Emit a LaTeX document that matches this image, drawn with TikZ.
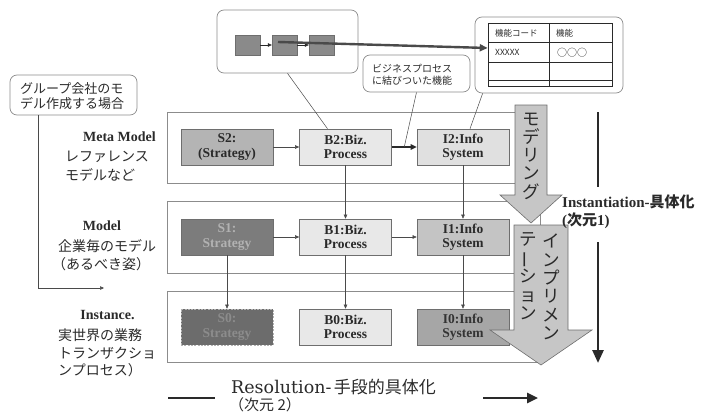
\documentclass[tikz,border=0pt]{standalone}
\usepackage{fontspec}
\setmainfont{Liberation Serif}
\newfontfamily\jp{Noto Sans CJK JP}
\newfontfamily\dvs{DejaVu Serif}
\usetikzlibrary{arrows.meta,calc}
\definecolor{ink}{HTML}{2A2A2A}
\definecolor{boxline}{HTML}{6E6E6E}
\definecolor{bandline}{HTML}{8C8C8C}
\definecolor{lightfill}{HTML}{E8E8E8}
\definecolor{sTwo}{HTML}{B4B4B4}
\definecolor{sOne}{HTML}{7C7C7C}
\definecolor{sZero}{HTML}{6C6C6C}
\definecolor{iTwo}{HTML}{E0E0E0}
\definecolor{iOne}{HTML}{C4C4C4}
\definecolor{iZero}{HTML}{A6A6A6}
\definecolor{bigarrow}{HTML}{C6C6C6}
\definecolor{sqfill}{HTML}{8A8A8A}
\definecolor{conn}{HTML}{4A4A4A}
\begin{document}
\begin{tikzpicture}[x=1pt,y=-1pt,
  every node/.style={text=ink},
  box/.style={draw=boxline, line width=0.6pt, minimum width=92pt, minimum height=36pt,
    inner sep=0pt, align=center, font=\bfseries\fontsize{13.5}{14.5}\selectfont},
  band/.style={draw=bandline, line width=0.7pt},
  callout/.style={draw=bandline, line width=0.7pt, rounded corners=7pt, inner sep=0pt},
  conn/.style={draw=conn, line width=0.5pt, -{Triangle[length=4pt,width=3.5pt]}},
  plain/.style={draw=conn, line width=0.5pt},
  sq/.style={fill=sqfill, draw=sqfill!80!black, line width=0.3pt, minimum width=25pt, minimum height=20pt, inner sep=0pt},
  lab/.style={font=\bfseries\fontsize{14}{16}\selectfont},
  jlab/.style={font=\jp\fontsize{14}{16}\selectfont, anchor=west, inner sep=0pt},
  big/.style={fill=bigarrow, draw=boxline, line width=0.6pt},
  vtext/.style={align=center, inner sep=0pt, font=\jp\fontsize{17.5}{18.3}\selectfont},
  heavy/.style={draw=ink, line width=2.6pt}
]
\useasboundingbox (0,0) rectangle (728,412);

% ---- bands
\draw[band] (167,112) rectangle (540,183);
\draw[band] (167,201) rectangle (540,273);
\draw[band] (167,291) rectangle (540,362);

% ---- top process box
\node[callout, minimum width=141pt, minimum height=63pt] (topbox) at (287.5,41.5) {};
\node[sq] (sq1) at (247.5,45) {};
\node[sq] (sq2) at (284.5,45) {};
\node[sq] (sq3) at (321.5,45) {};
\draw[conn, draw=ink] (sq1.east) -- (sq2.west);
\draw[conn, draw=ink] (sq2.east) -- (sq3.west);

% ---- table box
\node[callout, minimum width=148pt, minimum height=76pt] (tblbox) at (549,55) {};
\node[draw=ink, line width=0.6pt, minimum width=124pt, minimum height=63pt, inner sep=0pt] (tbl) at (550,54.5) {};
\draw[draw=ink, line width=0.6pt] (549,23) -- (549,86);
\draw[draw=ink, line width=0.6pt] (488,42) -- (612,42);
\draw[draw=ink, line width=0.6pt] (488,62) -- (612,62);
\draw[draw=ink, line width=0.6pt] (488,80) -- (612,80);
\node[font=\jp\fontsize{8.5}{10}\selectfont, anchor=west, inner sep=0pt] (thA) at (495,33) {機能コード};
\node[font=\jp\fontsize{8.5}{10}\selectfont, anchor=west, inner sep=0pt] (thB) at (556,33) {機能};
\node[font=\jp\fontsize{8.5}{10}\selectfont, anchor=west, inner sep=0pt] (tdA) at (495,52.5) {XXXXX};
\node[font=\jp\fontsize{10}{10}\selectfont, anchor=west, inner sep=0pt] (tdB) at (557,52.5) {○○○};

% heavy line from process to table
\coordinate (flowstart) at (278,42);
\draw[draw=conn, line width=2.4pt, -{Triangle[length=8pt,width=7pt]}] (flowstart) -- ([yshift=6.5pt]tbl.west);

% ---- callouts
\node[callout, minimum width=127pt, minimum height=40pt] (grpcall) at (73.5,95) {};
\node[font=\jp\fontsize{13}{15.5}\selectfont, align=left, anchor=west, inner sep=0pt] (grptext) at (20,96) {グループ会社のモ\\デル作成する場合};
\node[callout, minimum width=107pt, minimum height=37pt] (bizcall) at (416.5,73.5) {};
\node[font=\jp\fontsize{10}{11.5}\selectfont, align=left, anchor=west, inner sep=0pt] (biztext) at (372,75) {ビジネスプロセス\\に結びついた機能};

% ---- boxes
\node[box, fill=sTwo] (S2) at (227,147) {S2:\\(Strategy)};
\node[box, fill=lightfill] (B2) at (345.5,147) {B2:Biz.\\Process};
\node[box, fill=iTwo] (I2) at (463,147) {I2:Info\\System};
\node[box, fill=sOne, text=black!30] (S1) at (227,237) {S1:\\Strategy};
\node[box, fill=lightfill] (B1) at (345.5,237) {B1:Biz.\\Process};
\node[box, fill=iOne] (I1) at (463,237) {I1:Info\\System};
\node[box, fill=sZero, text=black!45, draw=black!30, dash pattern=on 2pt off 1.3pt] (S0) at (227,327) {S0:\\Strategy};
\node[box, fill=lightfill] (B0) at (345.5,327) {B0:Biz.\\Process};
\node[box, fill=iZero, text=black!80] (I0) at (463,327) {I0:Info\\System};

% ---- connectors
\draw[conn] (S2) -- (B2);
\draw[draw=ink, line width=1.8pt, -{Triangle[length=6pt,width=5.5pt]}] (B2) -- (I2);
\draw[conn] (S1) -- (B1);
\draw[conn] (B1) -- (I1);
\draw[conn] (B2) -- (B1);
\draw[conn] (I2) -- (I1);
\draw[conn] (S1) -- (S0);
\draw[conn] (B1) -- (B0);
\draw[conn] (I1) -- (I0);

\draw[plain] (topbox.south) -- ([xshift=-18pt]B2.north);
\draw[plain] (bizcall.south) -- ($(B2.east)!0.5!(I2.west)$);
\draw[plain] ([xshift=8pt]tblbox.south west) -- ([xshift=7pt]I2.north);
\coordinate (grpend) at (104,288);
\draw[conn] ([xshift=-35.5pt]grpcall.south) |- (grpend);

% ---- big arrows
\draw[big] (515,105) -- (547,105) -- (547,195) -- (562,195) -- (531,223) -- (500,195) -- (515,195) -- cycle;
\node[vtext] (modeling) at (531,156) {モ\\デ\\リ\\ン\\グ};
\draw[big] (514,225) -- (568,225) -- (568,330) -- (592,330) -- (541,365) -- (490,330) -- (514,330) -- cycle;
\node[vtext] (implA) at (551,287) {イ\\ン\\プ\\リ\\メ\\ン};
\node[vtext] (implB) at (528,276) {テ\\\rotatebox[origin=c]{90}{ー}\\シ\\ョ\\ン};

% ---- instantiation axis
\coordinate (axA) at (598,112);
\coordinate (axB) at (598,187);
\coordinate (axC) at (598,242);
\coordinate (axD) at (598,363);
\draw[heavy] (axA) -- (axB);
\draw[heavy, -{Triangle[length=13pt,width=11pt]}] (axC) -- (axD);
\node[font=\bfseries\fontsize{15}{17}\selectfont, anchor=west, inner sep=0pt] (instT) at (562,202) {Instantiation-{\jp\bfseries 具体化}};
\node[font=\bfseries\fontsize{15}{17}\selectfont, anchor=west, inner sep=0pt] (instS) at (562,221) {({\jp\bfseries 次元}1)};

% ---- left labels
\node[lab] (metaT) at (119.5,137) {Meta Model};
\node[jlab] (refA) at (65,157) {レファレンス};
\node[jlab] (refB) at (65,175) {モデルなど};
\node[lab] (modelT) at (102,226) {Model};
\node[jlab] (mdlA) at (58,246) {企業毎のモデル};
\node[jlab] (mdlB) at (52,264) {（あるべき姿）};
\node[lab] (instanceT) at (107.5,315) {Instance.};
\node[jlab] (insA) at (58,335) {実世界の業務};
\node[jlab] (insB) at (58,353) {トランザクショ};
\node[jlab] (insC) at (58,370) {ンプロセス）};

% ---- resolution axis
\node[anchor=west, inner sep=0pt] (resT) at (231,387) {{\dvs\fontsize{17.5}{19}\selectfont Resolution-} {\jp\fontsize{17}{18}\selectfont 手段的具体化}};
\node[anchor=west, inner sep=0pt, font=\jp\fontsize{15}{17}\selectfont] (resS) at (229,405) {（次元 2）};
\coordinate (rlA) at (168,398);
\coordinate (rlB) at (215,398);
\coordinate (raA) at (483,398);
\coordinate (raB) at (538,398);
\draw[heavy] (rlA) -- (rlB);
\draw[heavy, -{Triangle[length=11pt,width=10pt]}] (raA) -- (raB);
\end{tikzpicture}
\end{document}
